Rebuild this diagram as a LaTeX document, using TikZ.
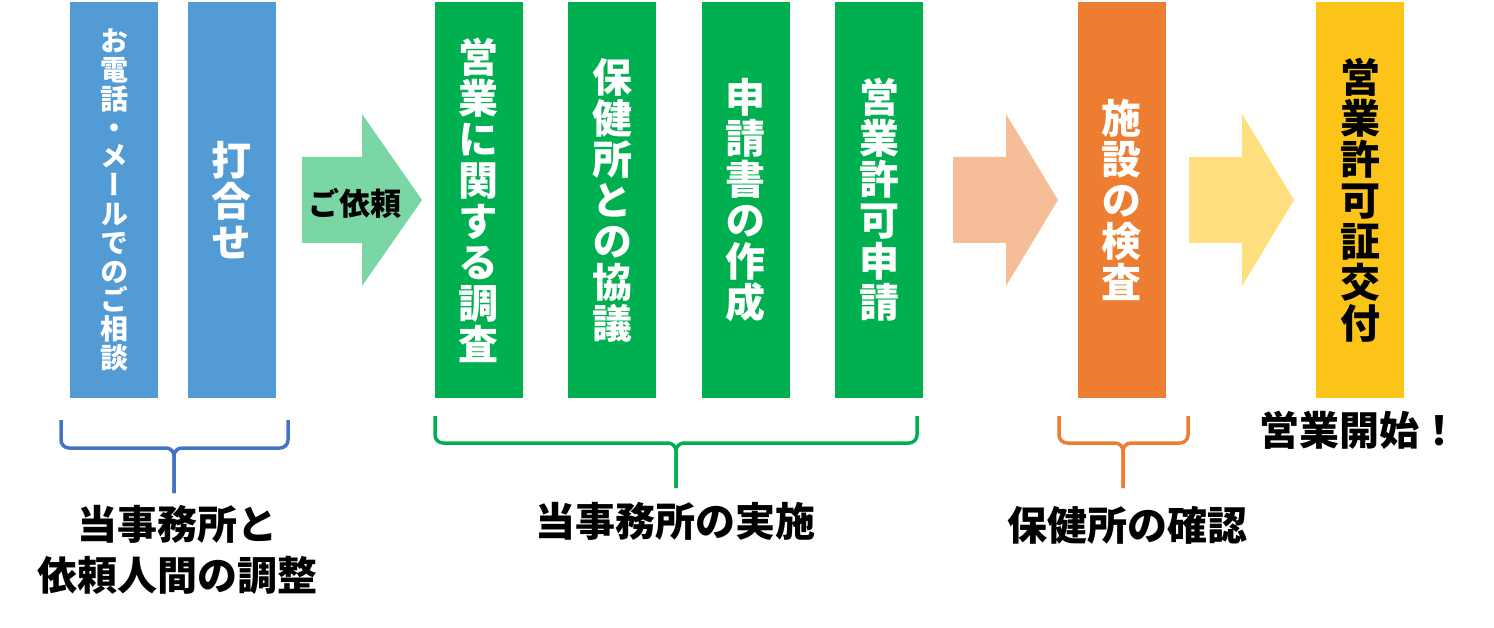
\documentclass[tikz,border=0pt]{standalone}
\usepackage{fontspec}
\usepackage{tikz}
\setmainfont{Noto Sans CJK JP}
\newfontfamily\vjp[RawFeature=+vert]{Noto Sans CJK JP}
\definecolor{StepBlue}{RGB}{82,155,212}
\definecolor{StepGreen}{RGB}{0,176,80}
\definecolor{StepOrange}{RGB}{237,125,49}
\definecolor{StepYellow}{RGB}{252,196,24}
\definecolor{ArrowGreen}{RGB}{122,214,165}
\definecolor{ArrowPeach}{RGB}{246,190,152}
\definecolor{ArrowYellow}{RGB}{255,222,128}
\definecolor{BraceBlue}{RGB}{68,114,196}

\begin{document}
\begin{tikzpicture}[x=1pt,y=-1pt,
  stage/.style n args={2}{fill=#1,text=#2,minimum width=88pt,minimum height=396pt,inner sep=0pt,align=center,font=\vjp\bfseries\fontsize{40}{41}\selectfont},
  grpbrace/.style={#1,line width=3.5pt,rounded corners=8pt},
  grplabel/.style={font=\bfseries\fontsize{40}{51}\selectfont,align=center,inner sep=0pt}]
\useasboundingbox (0,0) rectangle (1494,628);
% block arrows
\foreach \a/\b/\c/\col in %
{302/362/422/ArrowGreen,953/1006/1058/ArrowPeach,1189/1242/1294/ArrowYellow} {
   \fill[\col] (\a,157) -- (\b,157) -- (\b,114) -- (\c,200) -- (\b,286) -- (\b,243) -- (\a,243) -- cycle;
}
\node[font=\bfseries\fontsize{31}{32}\selectfont,inner sep=0pt](req) at(355,203) {ご依頼};
% steps
\node[stage={StepBlue}{white},font=\vjp\bfseries\fontsize{28}{28.8}\selectfont](call) at(114,200)
   {お\\電\\話\\・\\メ\\ー\\ル\\で\\の\\ご\\相\\談};
\node[stage={StepBlue}{white}](meet) at(231.5,200) {打\\合\\せ};
\foreach \x/\t [count=\i] in %
{478.5/{営\\業\\に\\関\\す\\る\\調\\査},612/{保\\健\\所\\と\\の\\協\\議},
 745.5/{申\\請\\書\\の\\作\\成},879/{営\\業\\許\\可\\申\\請}} {
   \node[stage={StepGreen}{white}](work\i) at(\x,200) {\t};
}
\node[stage={StepOrange}{white}](check) at(1121.5,200) {施\\設\\の\\検\\査};
\node[stage={StepYellow}{black}](permit) at(1360,200) {営\\業\\許\\可\\証\\交\\付};
\node[grplabel](open) at(1359,430) {営業開始！};
% braces
\draw[grpbrace=BraceBlue] (61,420) -- (61,448) -- (174,448) -- (174,493);
\draw[grpbrace=BraceBlue] (288,420) -- (288,448) -- (174,448) -- (174,493);
\draw[grpbrace=StepGreen] (435,416) -- (435,443) -- (676,443) -- (676,488);
\draw[grpbrace=StepGreen] (917,416) -- (917,443) -- (676,443) -- (676,488);
\draw[grpbrace=StepOrange] (1059,416) -- (1059,443) -- (1123,443) -- (1123,488);
\draw[grpbrace=StepOrange] (1188,416) -- (1188,443) -- (1123,443) -- (1123,488);
\node[grplabel](talk) at(177,550) {当事務所と\\依頼人間の調整};
\node[grplabel](office) at(675.5,521) {当事務所の実施};
\node[grplabel](health) at(1127,525) {保健所の確認};
\end{tikzpicture}
\end{document}
